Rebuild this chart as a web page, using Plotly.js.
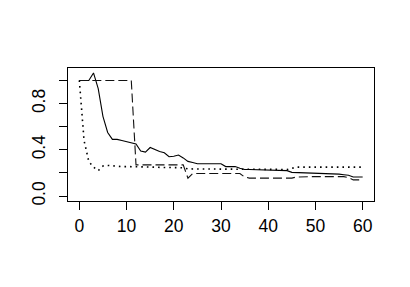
<!DOCTYPE html>
<html>
<head>
<meta charset="utf-8">
<script src="https://cdn.plot.ly/plotly-3.0.1.min.js"></script>
<style>html,body{margin:0;padding:0;background:#fff;}#chart{width:410px;height:287px;}</style>
</head>
<body>
<div id="chart"></div>
<script>
var xs = [];
for (var i = 0; i <= 60; i++) xs.push(i);

var solidY = [1.0, 1.0, 1.0, 1.065, 0.93, 0.69, 0.55, 0.49, 0.49, 0.48, 0.47, 0.46, 0.45, 0.39, 0.38, 0.42, 0.40, 0.385, 0.375, 0.34, 0.345, 0.355, 0.33, 0.30, 0.29, 0.28, 0.28, 0.28, 0.28, 0.28, 0.28, 0.255, 0.255, 0.255, 0.24, 0.23, 0.23, 0.228, 0.226, 0.225, 0.224, 0.223, 0.222, 0.221, 0.22, 0.205, 0.204, 0.203, 0.202, 0.201, 0.2, 0.198, 0.196, 0.194, 0.192, 0.19, 0.185, 0.18, 0.165, 0.165, 0.165];

var dashedY = [1.0, 1.0, 1.0, 1.0, 1.0, 1.0, 1.0, 1.0, 1.0, 1.0, 1.0, 1.0, 0.27, 0.27, 0.27, 0.27, 0.27, 0.27, 0.27, 0.27, 0.27, 0.27, 0.27, 0.155, 0.195, 0.195, 0.195, 0.195, 0.195, 0.195, 0.195, 0.195, 0.195, 0.195, 0.195, 0.165, 0.155, 0.155, 0.155, 0.155, 0.155, 0.155, 0.155, 0.155, 0.155, 0.155, 0.165, 0.168, 0.168, 0.168, 0.168, 0.168, 0.168, 0.168, 0.168, 0.168, 0.168, 0.16, 0.14, 0.14, 0.14];

var dottedY = [1.0, 0.48, 0.30, 0.25, 0.22, 0.26, 0.265, 0.26, 0.26, 0.255, 0.255, 0.255, 0.255, 0.25, 0.25, 0.25, 0.25, 0.248, 0.248, 0.246, 0.246, 0.245, 0.245, 0.235, 0.235, 0.235, 0.235, 0.235, 0.235, 0.235, 0.235, 0.235, 0.235, 0.235, 0.235, 0.23, 0.23, 0.23, 0.23, 0.23, 0.23, 0.23, 0.23, 0.23, 0.23, 0.24, 0.25, 0.25, 0.25, 0.25, 0.25, 0.25, 0.25, 0.25, 0.25, 0.25, 0.25, 0.25, 0.25, 0.25, 0.25];

var xTickVals = [0, 10, 20, 30, 40, 50, 60];
var xTickText = ['0', '10', '20', '30', '40', '50', '60'];
var yTickVals = [0, 0.2, 0.4, 0.6, 0.8, 1.0];
var yTickText = ['0.0', '', '0.4', '', '0.8', ''];

var traces = [
  {x: xs, y: solidY, mode: 'lines', line: {color: '#000', width: 1.1}},
  {x: xs, y: dashedY, mode: 'lines', line: {color: '#111', width: 1.1, dash: '9px,4px'}},
  {x: xs, y: dottedY, mode: 'lines', line: {color: '#000', width: 1.6, dash: '1.6px,4px'}}
];

var axisCommon = {
  showgrid: false, zeroline: false, showline: true, mirror: true,
  linecolor: '#000', linewidth: 1, ticks: 'outside', ticklen: 8,
  tickcolor: '#000', tickwidth: 1, tickmode: 'array', fixedrange: true
};

var layout = {
  width: 410, height: 287,
  margin: {l: 68, r: 36, t: 68, b: 86, pad: 0},
  paper_bgcolor: '#fff', plot_bgcolor: '#fff',
  showlegend: false,
  font: {family: 'Liberation Sans, Arial, sans-serif', size: 17.5, color: '#000'},
  xaxis: Object.assign({}, axisCommon, {range: [-2.4, 62.4], tickvals: xTickVals, ticktext: xTickText, ticklabelstandoff: 1}),
  yaxis: Object.assign({}, axisCommon, {range: [-0.0426, 1.1076], tickvals: yTickVals, ticktext: yTickText, tickangle: -90, ticklabelstandoff: 7})
};

Plotly.newPlot('chart', traces, layout, {staticPlot: true, displayModeBar: false});
</script>
</body>
</html>
